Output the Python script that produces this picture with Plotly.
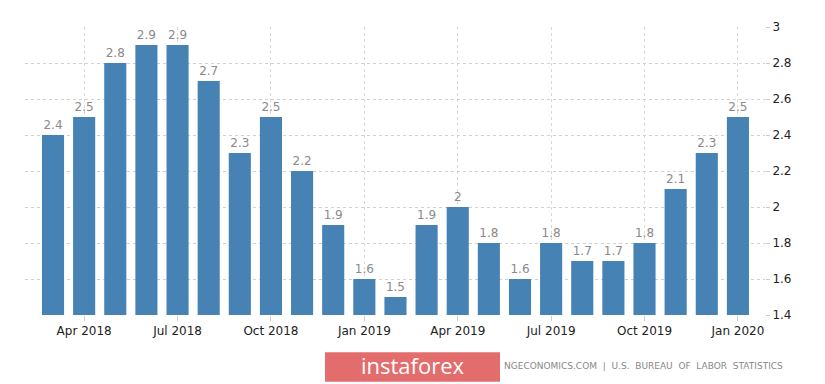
import plotly.graph_objects as go

months = ["Mar 2018", "Apr 2018", "May 2018", "Jun 2018", "Jul 2018", "Aug 2018",
          "Sep 2018", "Oct 2018", "Nov 2018", "Dec 2018", "Jan 2019", "Feb 2019",
          "Mar 2019", "Apr 2019", "May 2019", "Jun 2019", "Jul 2019", "Aug 2019",
          "Sep 2019", "Oct 2019", "Nov 2019", "Dec 2019", "Jan 2020"]
values = [2.4, 2.5, 2.8, 2.9, 2.9, 2.7, 2.3, 2.5, 2.2, 1.9, 1.6, 1.5,
          1.9, 2.0, 1.8, 1.6, 1.8, 1.7, 1.7, 1.8, 2.1, 2.3, 2.5]
tick_labels = ["Apr 2018", "Jul 2018", "Oct 2018", "Jan 2019",
               "Apr 2019", "Jul 2019", "Oct 2019", "Jan 2020"]
y_ticks = [1.4, 1.6, 1.8, 2.0, 2.2, 2.4, 2.6, 2.8, 3.0]

x_idx = list(range(len(months)))
tick_idx = [months.index(t) for t in tick_labels]
bar_text = [("%g" % v) for v in values]

FONT = "DejaVu Sans"

# page has an 8px body margin; figure sized to fit inside window
W, H = 817, 376
PL, PR, PT, PB = 17, 757, 14, 307  # plot area in figure pixels


def px(x):
    return (x - 8 - PL) / (PR - PL)


def py(y):
    return (PB - (y - 8)) / (PB - PT)


fig = go.Figure()
fig.add_trace(go.Bar(
    x=x_idx, y=values,
    marker=dict(color="#4682b4", line=dict(width=0)),
    text=bar_text, textposition="outside",
    textfont=dict(family=FONT, size=12, color="#8a8a8a"),
    cliponaxis=False,
    hoverinfo="skip",
))

fig.update_layout(
    width=W, height=H,
    margin=dict(l=PL, r=W - PR, t=PT, b=H - PB),
    paper_bgcolor="white", plot_bgcolor="white",
    bargap=0.29,
    showlegend=False,
    font=dict(family=FONT),
    xaxis=dict(
        range=[-0.9, 22.87],
        tickmode="array", tickvals=tick_idx, ticktext=tick_labels,
        tickfont=dict(family=FONT, size=12, color="#222"),
        showgrid=True, gridcolor="#d8d8d8", griddash="dot", gridwidth=1,
        ticks="outside", ticklen=5, tickcolor="#cccccc",
        showline=False, zeroline=False,
    ),
    yaxis=dict(
        range=[1.4, 3.0], side="right",
        tickmode="array", tickvals=y_ticks,
        ticktext=["%g" % t for t in y_ticks],
        tickfont=dict(family=FONT, size=12, color="#222"),
        showgrid=True, gridcolor="#d0d0d0", griddash="dot", gridwidth=1,
        ticks="outside", ticklen=4, tickcolor="#cccccc",
        zeroline=False, showline=False,
    ),
)

# watermark box with its label
fig.add_shape(type="rect", xref="paper", yref="paper",
              x0=px(325), x1=px(500), y0=py(383), y1=py(353),
              fillcolor="#e36c6c", line=dict(width=0), layer="above",
              label=dict(text="instaforex", textposition="middle center",
                         font=dict(family="Open Sans", size=22, color="white")))
fig.add_annotation(xref="paper", yref="paper",
                   x=px(502), y=py(367), xanchor="left", yanchor="middle",
                   text="NGECONOMICS.COM  |  U.S.  BUREAU  OF  LABOR  STATISTICS",
                   showarrow=False,
                   font=dict(family=FONT, size=9, color="#888"))

fig.write_html("out.html")
